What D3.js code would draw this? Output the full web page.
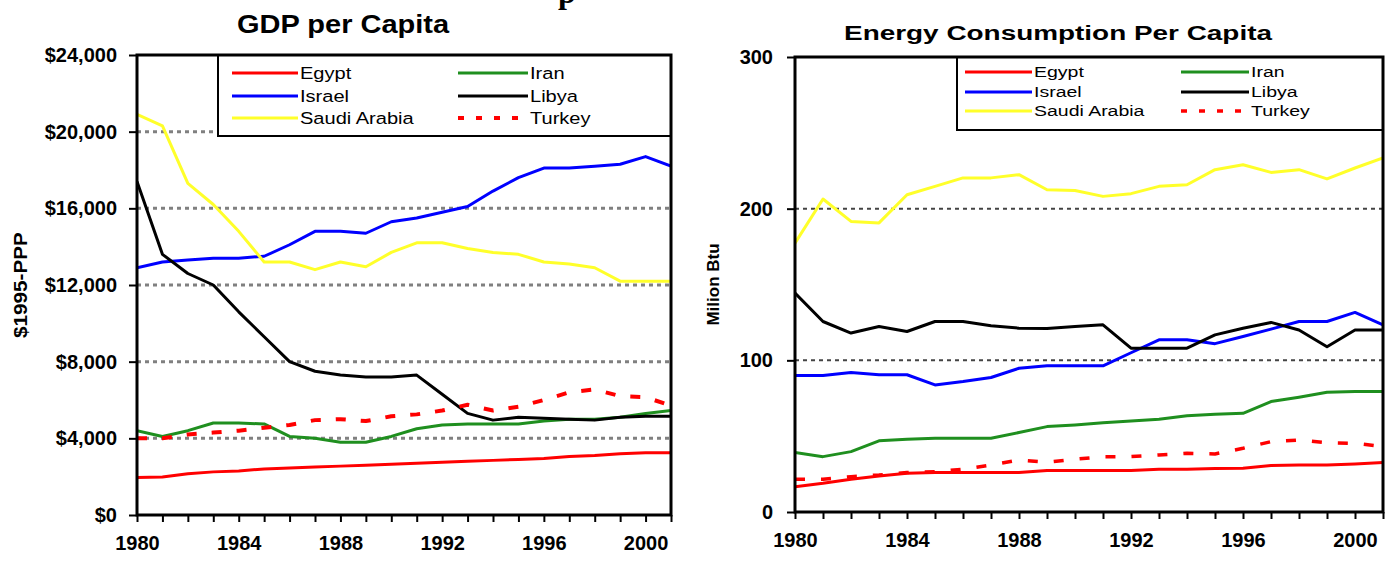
<!DOCTYPE html>
<html>
<head>
<meta charset="utf-8">
<script src="https://cdn.jsdelivr.net/npm/d3@7"></script>
<style>
  html, body { margin: 0; padding: 0; background: #ffffff; }
  svg { display: block; font-family: "Liberation Sans", Arial, sans-serif; }
</style>
</head>
<body>
<svg id="chart" width="1390" height="563"></svg>
<script>
// ---------------- DATA ----------------
const years = [1980,1981,1982,1983,1984,1985,1986,1987,1988,1989,1990,1991,1992,1993,1994,1995,1996,1997,1998,1999,2000,2001];
const seriesNames = ["Egypt","Iran","Israel","Libya","Saudi Arabia","Turkey"];

// GDP per capita ($1995-PPP)
const gdpEgypt  = [1950,1980,2150,2250,2300,2400,2450,2500,2550,2600,2650,2700,2750,2800,2850,2900,2950,3050,3100,3200,3250,3250];
const gdpIran   = [4400,4100,4400,4800,4800,4750,4100,4000,3800,3800,4100,4500,4700,4750,4750,4750,4900,5000,5000,5100,5300,5450];
const gdpIsrael = [12900,13200,13300,13400,13400,13500,14100,14800,14800,14700,15300,15500,15800,16100,16900,17600,18100,18100,18200,18300,18700,18200];
const gdpLibya  = [17400,13600,12600,12000,10600,9300,8000,7500,7300,7200,7200,7300,6300,5300,4950,5100,5050,5000,4950,5100,5150,5150];
const gdpSaudi  = [20900,20300,17300,16200,14800,13200,13200,12800,13200,12950,13700,14200,14200,13900,13700,13600,13200,13100,12900,12200,12200,12200];
const gdpTurkey = [4000,4000,4200,4300,4400,4550,4700,4950,5000,4900,5150,5250,5450,5750,5450,5650,6000,6400,6550,6200,6150,5700];

// Energy consumption per capita (Million Btu)
const enEgypt  = [16.7,18.9,21.6,23.8,25.5,26,26,26,26,27.3,27.3,27.3,27.3,28.2,28.2,28.6,28.8,30.6,31,31,31.7,32.6];
const enIran   = [39.2,36.5,39.8,46.9,48,48.6,48.6,48.6,52.4,56.3,57.4,58.9,60,61.2,63.4,64.5,65.1,72.8,75.7,79,79.4,79.4];
const enIsrael = [90,90,92,90.5,90.5,83.8,86,88.7,94.8,96.4,96.4,96.4,105,113.5,113.5,111,115.7,120.6,125.6,125.6,131.6,123.4];
const enLibya  = [144.3,125.6,118,122.3,119,125.6,125.6,122.8,121.2,121,122.3,123.4,108,108,108,116.8,121.2,125,120,109,120,120];
const enSaudi  = [177.3,206.4,191.6,190.6,209.2,214.7,220.3,220.3,222.4,212.5,212,208.1,209.9,214.7,215.8,225.7,229,223.9,225.7,219.6,226.8,233.5];
const enTurkey = [21.6,21.6,23.3,24.4,26,26.6,28.2,31,34.3,32.8,34.8,36.5,36.5,37.6,38.7,38.3,42,46.4,47.5,45.7,45.3,43.1];

const gdpTicks = [0,4000,8000,12000,16000,20000,24000];
const enTicks  = [0,100,200,300];
const xLabelYears = [1980,1984,1988,1992,1996,2000];

// ---------------- STYLE ----------------
const colors = {"Egypt":"#ff0000","Iran":"#1f8f1f","Israel":"#0000ff","Libya":"#000000","Saudi Arabia":"#ffff2a","Turkey":"#ff0000"};

const svg = d3.select("#chart");

// cut-off heading fragment at very top (as in the reference)
svg.append("text").attr("x", 558).attr("y", 3)
  .attr("font-family", "'Liberation Serif', 'Times New Roman', serif")
  .attr("font-weight", "bold").attr("font-size", 32).text("p");

function drawPanel(cfg) {
  const x = d3.scaleLinear().domain([years[0], years[years.length-1]]).range([cfg.x0, cfg.x1]);
  const y = d3.scaleLinear().domain([cfg.ticks[0], cfg.ticks[cfg.ticks.length-1]]).range([cfg.yB, cfg.yT]);
  const g = svg.append("g");

  g.append("text")
    .attr("transform", `translate(${cfg.titleX},${cfg.titleY}) scale(${cfg.titleSX},1)`)
    .attr("text-anchor", "middle").attr("font-weight", "bold")
    .attr("font-size", cfg.titleSize).text(cfg.title);

  g.append("g").selectAll("line")
    .data(cfg.ticks.slice(1, -1)).join("line")
    .attr("x1", cfg.x0).attr("x2", cfg.x1)
    .attr("y1", d => y(d)).attr("y2", d => y(d))
    .attr("stroke", cfg.gridColor).attr("stroke-width", cfg.gridW)
    .attr("stroke-dasharray", cfg.gridDash);

  const yAxis = d3.axisLeft(y).tickValues(cfg.ticks).tickSize(8).tickPadding(cfg.yPad)
    .tickFormat(cfg.fmt);
  const ya = g.append("g").attr("transform", `translate(${cfg.x0},0)`).call(yAxis);
  ya.select(".domain").remove();
  ya.selectAll(".tick line").attr("stroke", "#000").attr("stroke-width", 2);
  ya.selectAll(".tick text").attr("font-size", 20).attr("font-weight", "bold")
    .attr("font-family", "'Liberation Sans', Arial, sans-serif").attr("fill", "#000");

  const xAxis = d3.axisBottom(x).tickValues(years).tickSize(7).tickPadding(14)
    .tickFormat(d => xLabelYears.includes(d) ? String(d) : "");
  const xa = g.append("g").attr("transform", `translate(0,${cfg.yB})`).call(xAxis);
  xa.select(".domain").remove();
  xa.selectAll(".tick line").attr("stroke", "#000").attr("stroke-width", 2);
  xa.selectAll(".tick text").attr("font-size", 20).attr("font-weight", "bold")
    .attr("font-family", "'Liberation Sans', Arial, sans-serif").attr("fill", "#000");

  g.append("text")
    .attr("transform", `translate(${cfg.yTitleX},${(cfg.yT + cfg.yB)/2}) rotate(-90) scale(${cfg.yTitleSX},1)`)
    .attr("text-anchor", "middle").attr("font-weight", "bold")
    .attr("font-size", cfg.yTitleSize).text(cfg.yTitle);

  const clipId = "clip" + cfg.id;
  svg.append("clipPath").attr("id", clipId).append("rect")
    .attr("x", cfg.x0).attr("y", cfg.yT).attr("width", cfg.x1 - cfg.x0).attr("height", cfg.yB - cfg.yT);

  const line = d3.line().x((d, i) => x(years[i])).y(d => y(d));
  const lg = g.append("g").attr("clip-path", `url(#${clipId})`);
  cfg.series.forEach((vals, k) => {
    const name = seriesNames[k];
    lg.append("path").datum(vals)
      .attr("d", line).attr("fill", "none")
      .attr("stroke", colors[name])
      .attr("stroke-width", name === "Turkey" ? cfg.dashW : cfg.lineW)
      .attr("stroke-dasharray", name === "Turkey" ? cfg.dash : null)
      .attr("stroke-linejoin", "round");
  });

  g.append("rect").attr("x", cfg.legX).attr("y", cfg.yT)
    .attr("width", cfg.x1 - cfg.legX).attr("height", cfg.legB - cfg.yT)
    .attr("fill", "#fff").attr("stroke", "#000").attr("stroke-width", 2);
  seriesNames.forEach((name, k) => {
    const col = k % 2, row = Math.floor(k / 2);
    const ly = cfg.legRows[row];
    const l = cfg.legCols[col];
    g.append("line").attr("x1", l[0]).attr("x2", l[1]).attr("y1", ly).attr("y2", ly)
      .attr("stroke", colors[name])
      .attr("stroke-width", name === "Turkey" ? cfg.dashW : cfg.legLineW)
      .attr("stroke-dasharray", name === "Turkey" ? cfg.legDash : null);
    g.append("text")
      .attr("transform", `translate(${l[1] + 2},${ly + cfg.legSize*0.36}) scale(${cfg.legSX},1)`)
      .attr("font-size", cfg.legSize).attr("fill", "#000").text(name);
  });

  g.append("rect").attr("x", cfg.x0).attr("y", cfg.yT)
    .attr("width", cfg.x1 - cfg.x0).attr("height", cfg.yB - cfg.yT)
    .attr("fill", "none").attr("stroke", "#000").attr("stroke-width", 3);
}

drawPanel({
  id: "gdp", x0: 137, x1: 671, yT: 55, yB: 515,
  ticks: gdpTicks, fmt: d3.format("$,"), yPad: 12,
  title: "GDP per Capita", titleX: 343, titleY: 33, titleSize: 25, titleSX: 1.16,
  yTitle: "$1995-PPP", yTitleX: 27, yTitleSize: 18, yTitleSX: 1.15,
  gridColor: "#808080", gridW: 3, gridDash: "4,4",
  series: [gdpEgypt, gdpIran, gdpIsrael, gdpLibya, gdpSaudi, gdpTurkey],
  lineW: 3, legLineW: 3, dashW: 4, dash: "10,15", legDash: "6,12",
  legX: 218, legB: 136, legRows: [73, 96, 118],
  legCols: [[232, 298], [458, 528]], legSize: 17, legSX: 1.18
});

drawPanel({
  id: "en", x0: 795, x1: 1383, yT: 57, yB: 512,
  ticks: enTicks, fmt: d3.format("d"), yPad: 14,
  title: "Energy Consumption Per Capita", titleX: 1058, titleY: 40, titleSize: 21, titleSX: 1.33,
  yTitle: "Milion Btu", yTitleX: 719, yTitleSize: 17, yTitleSX: 1.0,
  gridColor: "#444", gridW: 2, gridDash: "4,4",
  series: [enEgypt, enIran, enIsrael, enLibya, enSaudi, enTurkey],
  lineW: 3, legLineW: 3, dashW: 3.5, dash: "10,16", legDash: "6,12",
  legX: 957, legB: 130, legRows: [72, 92, 111],
  legCols: [[965, 1032], [1181, 1249]], legSize: 15, legSX: 1.3
});
</script>
</body>
</html>
